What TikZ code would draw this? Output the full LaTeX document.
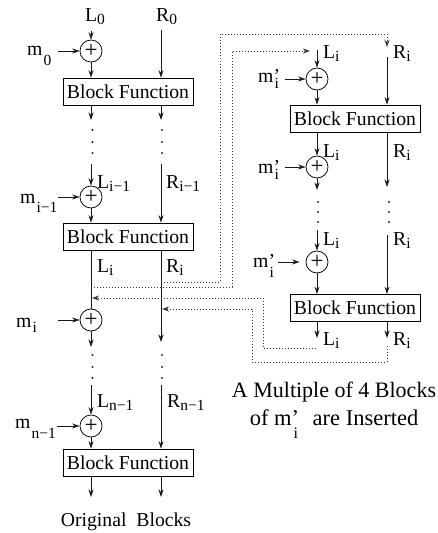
\documentclass[tikz,border=0pt]{standalone}
\usepackage{fontspec}
\setmainfont{Liberation Serif}
\usetikzlibrary{arrows.meta}
\newcommand\subf{\fontsize{15.5}{15.5}\selectfont}
\newcommand\Lab[2]{#1\raisebox{-3pt}{\subf #2}}
\newcommand\Mlab[2]{m\raisebox{-#1}{\subf\hspace{1pt}#2}}
\newcommand\Mpr[1]{m\rlap{’}\raisebox{-#1}{\hspace{1pt}\subf i}}
\begin{document}
\begin{tikzpicture}[x=1pt,y=-1pt,
  font=\fontsize{19.7}{22}\selectfont,
  ln/.style={line width=0.75pt, draw=black!90},
  arr/.style={ln, -{Stealth[length=7.5pt,width=5pt,inset=2.5pt]}},
  dotl/.style={line width=0.9pt, dash pattern=on 0.9pt off 2.1pt, draw=black!80},
  darr/.style={dotl, -{Stealth[open,length=7pt,width=5pt,inset=2pt]}},
  xorn/.style={circle, draw, line width=0.75pt, minimum size=22pt, inner sep=0pt, font=\fontsize{23}{23}\selectfont},
  bf/.style={draw, line width=0.75pt, minimum width=130pt, minimum height=27pt, inner sep=0pt},
  lab/.style={anchor=base west, inner sep=0pt},
  vdot/.style={circle, fill=black!85, inner sep=0pt, minimum size=2.2pt}
]
\useasboundingbox (0,0) rectangle (438,533);

% ---------------- left column ----------------
\node[lab] (lL0) at (85,21) {\Lab{L}{0}};
\node[lab] (lR0) at (156,21) {\Lab{R}{0}};
\coordinate (tL0) at (91,31);
\coordinate (tR0) at (161,30);
\node[xorn] (c0) at (91,51) {+};
\node[lab] (m0) at (27,55) {\Mlab{10pt}{0}};
\coordinate (m0a) at (58,51);
\draw[arr] (tL0) -- (c0);
\draw[arr] (m0a) -- (c0);
\node[bf] (B1) at (128,91.5) {Block Function};
\draw[arr] (c0) -- (c0 |- B1.north);
\draw[arr] (tR0) -- (tR0 |- B1.north);
\coordinate (e1L) at (91,120);
\coordinate (e1R) at (161,120);
\draw[arr] (e1L |- B1.south) -- (e1L);
\draw[arr] (e1R |- B1.south) -- (e1R);
\foreach \y [count=\k] in {130,142,153} {
  \node[vdot] (dA\k) at (92.5,\y) {};
  \node[vdot] (dB\k) at (162,\y) {};
}

\coordinate (s2L) at (91,164);
\coordinate (s2R) at (161,164);
\node[xorn] (c1) at (91,197) {+};
\node[lab] (lL1) at (97,188) {\Lab{L}{i−1}};
\node[lab] (lR1) at (166,188) {\Lab{R}{i−1}};
\node[lab] (m1) at (20,203) {\Mlab{9pt}{i−1}};
\coordinate (m1a) at (58,197);
\draw[arr] (s2L) -- (c1);
\draw[arr] (m1a) -- (c1);
\node[bf] (B2) at (128,236.5) {Block Function};
\draw[arr] (c1) -- (c1 |- B2.north);
\draw[arr] (s2R) -- (s2R |- B2.north);

\node[xorn] (c2) at (91,320) {+};
\coordinate (e2R) at (161,342);
\draw[ln] (c2 |- B2.south) -- (c2);
\draw[arr] (e2R |- B2.south) -- (e2R);
\node[lab] (lL2) at (97,272) {\Lab{L}{i}};
\node[lab] (lR2) at (166,272) {\Lab{R}{i}};
\node[lab] (m2) at (16,327) {\Mlab{5pt}{i}};
\coordinate (m2a) at (58,320);
\draw[arr] (m2a) -- (c2);
\coordinate (e2L) at (91,347);
\draw[arr] (c2) -- (e2L);
\foreach \y [count=\k] in {355,367,378} {
  \node[vdot] (dC\k) at (92.5,\y) {};
  \node[vdot] (dD\k) at (162,\y) {};
}

\coordinate (s4L) at (91,385);
\coordinate (s4R) at (161,385);
\node[xorn] (c3) at (91,426) {+};
\node[lab] (lL3) at (97,407) {\Lab{L}{n−1}};
\node[lab] (lR3) at (167,407) {\Lab{R}{n−1}};
\node[lab] (m3) at (15,428) {\Mlab{10pt}{n−1}};
\coordinate (m3a) at (57,426);
\draw[arr] (s4L) -- (c3);
\draw[arr] (m3a) -- (c3);
\node[bf] (B3) at (128,462.5) {Block Function};
\draw[arr] (c3) -- (c3 |- B3.north);
\draw[arr] (s4R) -- (s4R |- B3.north);
\coordinate (e3L) at (91,497);
\coordinate (e3R) at (161,497);
\draw[arr] (e3L |- B3.south) -- (e3L);
\draw[arr] (e3R |- B3.south) -- (e3R);
\node[anchor=base, inner sep=0pt] (orig) at (126,526) {Original\ \ Blocks};

% ---------------- right column ----------------
\node[lab] (rL0) at (323,58) {\Lab{L}{i}};
\node[lab] (rR0) at (393,58) {\Lab{R}{i}};
\coordinate (u0L) at (317,50);
\coordinate (u0R) at (387,57);
\node[xorn] (d0) at (317,79) {+};
\node[lab] (n0) at (258,82) {\Mpr{6pt}};
\coordinate (n0a) at (285,79);
\draw[arr] (u0L) -- (d0);
\draw[arr] (n0a) -- (d0);
\node[bf] (R1) at (355,118.5) {Block Function};
\draw[arr] (d0) -- (d0 |- R1.north);
\draw[arr] (u0R) -- (u0R |- R1.north);

\node[xorn] (d1) at (317,167) {+};
\node[lab] (rL1) at (323,157) {\Lab{L}{i}};
\node[lab] (rR1) at (393,157) {\Lab{R}{i}};
\node[lab] (n1) at (258,173) {\Mpr{6pt}};
\coordinate (n1a) at (285,167);
\coordinate (f1R) at (387,187);
\draw[arr] (d1 |- R1.south) -- (d1);
\draw[arr] (f1R |- R1.south) -- (f1R);
\draw[arr] (n1a) -- (d1);
\coordinate (f1L) at (317,190);
\draw[arr] (d1) -- (f1L);
\foreach \y [count=\k] in {202,212,222} {
  \node[vdot] (dE\k) at (318,\y) {};
  \node[vdot] (dF\k) at (389,\y) {};
}

\coordinate (u2L) at (317,230);
\coordinate (u2R) at (387,235);
\node[xorn] (d2) at (317,262) {+};
\node[lab] (rL2) at (323,245) {\Lab{L}{i}};
\node[lab] (rR2) at (393,245) {\Lab{R}{i}};
\node[lab] (n2) at (253,267) {\Mpr{10pt}};
\coordinate (n2a) at (278,262);
\draw[arr] (u2L) -- (d2);
\draw[arr, shorten >=6pt] (n2a) -- (d2);
\node[bf] (R2) at (355,308) {Block Function};
\draw[arr] (d2) -- (d2 |- R2.north);
\draw[arr] (u2R) -- (u2R |- R2.north);
\coordinate (g2L) at (317,338);
\coordinate (g2R) at (387,338);
\draw[arr] (g2L |- R2.south) -- (g2L);
\draw[arr] (g2R |- R2.south) -- (g2R);
\node[lab] (rL3) at (323,345) {\Lab{L}{i}};
\node[lab] (rR3) at (393,345) {\Lab{R}{i}};

% ---------------- dotted connections ----------------
\coordinate (oR) at (161,282);
\coordinate (oRin) at (387,47);
\draw[darr] (oR) -- (220,282) -- (220,34) -- (387,34) -- (oRin);
\coordinate (oL) at (91,287);
\coordinate (oLin) at (310,51);
\draw[darr] (oL) -- (232,287) -- (232,51) -- (oLin);
\coordinate (bL) at (316,348);
\coordinate (bLin) at (92,298);
\draw[darr] (bL) -- (263,348) -- (263,298) -- (bLin);
\coordinate (bR) at (387,346);
\coordinate (bRin) at (162,309);
\draw[darr] (bR) -- (387,362) -- (252,362) -- (252,309) -- (bRin);

% ---------------- annotation ----------------
\node[anchor=base, inner sep=0pt, font=\fontsize{22}{26}\selectfont] (ann1) at (334,397) {A Multiple of 4 Blocks};
\node[anchor=base, inner sep=0pt, font=\fontsize{22.5}{26}\selectfont] (ann2) at (334,425)
  {of m\rlap{’}\raisebox{-13pt}{\hspace{2pt}\fontsize{16}{16}\selectfont i}\hspace{9pt} are Inserted};
\end{tikzpicture}
\end{document}
